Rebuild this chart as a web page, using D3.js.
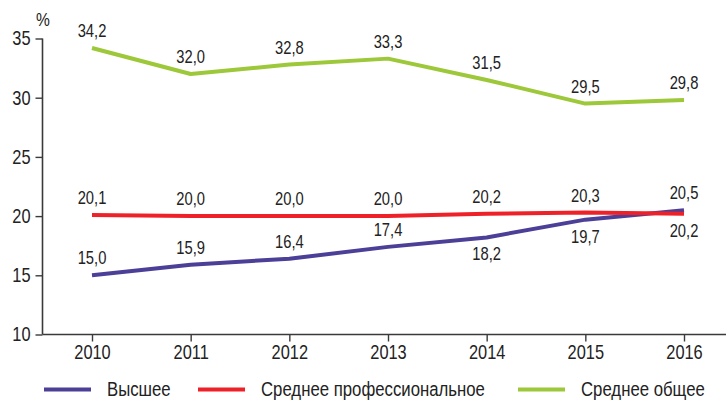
<!DOCTYPE html>
<html>
<head>
<meta charset="utf-8">
<script src="https://cdn.jsdelivr.net/npm/d3@7"></script>
<style>
  html, body { margin: 0; padding: 0; background: #fff; }
  svg { display: block; }
  text { font-family: "Liberation Sans Narrow", "Arial Narrow", "Liberation Sans", Arial, sans-serif; fill: #222; }
</style>
</head>
<body>
<script>
// Years on the horizontal axis
const years = [2010, 2011, 2012, 2013, 2014, 2015, 2016];

// Share of each education level, %
const higher = [15.0, 15.9, 16.4, 17.4, 18.2, 19.7, 20.5];
const vocational = [20.1, 20.0, 20.0, 20.0, 20.2, 20.3, 20.2];
const general = [34.2, 32.0, 32.8, 33.3, 31.5, 29.5, 29.8];

// Series names as shown in the legend
const seriesNames = ["Высшее", "Среднее профессиональное", "Среднее общее"];

// Vertical axis ticks
const yTicks = [10, 15, 20, 25, 30, 35];

// Which side of the line each value label sits on
const higherSide = ["up", "up", "up", "up", "down", "down", "up"];
const vocationalSide = ["up", "up", "up", "up", "up", "up", "down"];
const generalSide = ["up", "up", "up", "up", "up", "up", "up"];

const W = 726, H = 400;
const svg = d3.select("body").append("svg").attr("width", W).attr("height", H);

const x = d3.scalePoint().domain(years).range([92, 684]);
const y = d3.scaleLinear().domain([10, 35]).range([334.5, 38.5]);

const axisColor = "#3a3a3a";
const fmt = d3.formatLocale({ decimal: ",", thousands: " ", grouping: [3], currency: ["", ""] }).format(".1f");

// Narrow lettering: the regular face squeezed horizontally
const NARROW = 0.82;
const LEGEND_NARROW = 0.86;

// Y axis
const yAxis = svg.append("g")
  .attr("transform", "translate(42.5,0)")
  .call(d3.axisLeft(y).tickValues(yTicks).tickSize(7).tickPadding(5).tickFormat(d3.format("d")));
yAxis.select(".domain").attr("stroke", axisColor).attr("stroke-width", 1.6).attr("d", `M0,${y(35)}V${y(10)}`);
yAxis.selectAll(".tick line").attr("stroke", axisColor).attr("stroke-width", 1.4);
yAxis.selectAll(".tick text").attr("font-size", 20).attr("fill", "#222")
  .attr("x", -12 / NARROW)
  .attr("transform", `scale(${NARROW},1)`)
  .style("font-family", '"Liberation Sans Narrow", "Arial Narrow", "Liberation Sans", Arial, sans-serif');

// X axis
const xAxis = svg.append("g")
  .attr("transform", `translate(0,${y(10)})`)
  .call(d3.axisBottom(x).tickSize(7).tickPadding(3.5).tickFormat(d3.format("d")));
xAxis.select(".domain").attr("stroke", axisColor).attr("stroke-width", 1.6).attr("d", `M42.5,0H${W}`);
xAxis.selectAll(".tick line").attr("stroke", axisColor).attr("stroke-width", 1.4);
xAxis.selectAll(".tick text").attr("font-size", 20).attr("fill", "#222")
  .attr("transform", `scale(${NARROW},1)`)
  .style("font-family", '"Liberation Sans Narrow", "Arial Narrow", "Liberation Sans", Arial, sans-serif');

// Unit label
svg.append("text").attr("transform", `translate(43,26) scale(${NARROW},1)`)
  .attr("text-anchor", "middle").attr("font-size", 19).text("%");

const series = [
  { name: seriesNames[0], values: higher, side: higherSide, color: "#4b3f98" },
  { name: seriesNames[1], values: vocational, side: vocationalSide, color: "#ee2128" },
  { name: seriesNames[2], values: general, side: generalSide, color: "#9cc83a" }
];

const line = d3.line().x((d, i) => x(years[i])).y(d => y(d));

// Lines
series.forEach(s => {
  svg.append("path").datum(s.values)
    .attr("fill", "none").attr("stroke", s.color).attr("stroke-width", 4)
    .attr("stroke-linejoin", "round")
    .attr("d", line);
});

// Value labels
series.forEach(s => {
  svg.append("g").selectAll("text").data(s.values).join("text")
    .attr("transform", (d, i) => {
      const ty = s.side[i] === "up" ? y(d) - 11 : y(d) + 23;
      return `translate(${x(years[i])},${ty}) scale(${NARROW},1)`;
    })
    .attr("text-anchor", "middle")
    .attr("font-size", 18)
    .text(d => fmt(d));
});

// Legend
const legendX = [44, 198, 518];
const legend = svg.append("g");
series.forEach((s, i) => {
  const g = legend.append("g").attr("transform", `translate(${legendX[i]},389.5)`);
  g.append("line").attr("x1", 0).attr("x2", 47).attr("y1", 0).attr("y2", 0)
    .attr("stroke", s.color).attr("stroke-width", 4);
  g.append("text").attr("transform", `translate(63,6) scale(${LEGEND_NARROW},1)`)
    .attr("font-size", 19.5).text(s.name);
});
</script>
</body>
</html>
